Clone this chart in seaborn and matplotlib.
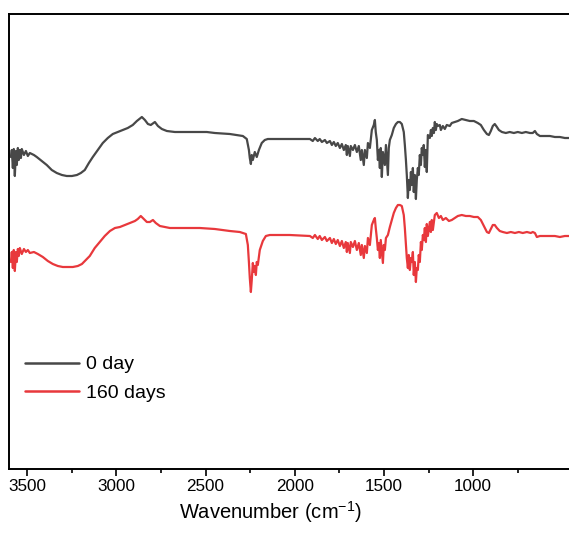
import numpy as np
import pandas as pd
import matplotlib
matplotlib.use("Agg")
import matplotlib.pyplot as plt
import seaborn as sns

wn_0day = [3591, 3586, 3580, 3575, 3569, 3563, 3558, 3552, 3547, 3541, 3535, 3530, 3518, 3507, 3496, 3485,
           3462, 3446, 3418, 3390, 3362, 3334, 3305, 3278, 3249, 3221, 3199, 3177, 3154, 3132, 3104, 3076,
           3048, 3020, 2992, 2964, 2936, 2908, 2885, 2857, 2840, 2823, 2807, 2784, 2767, 2745, 2717, 2672,
           2588, 2493, 2448, 2364, 2291, 2269, 2257, 2252, 2246, 2241, 2235, 2224, 2213, 2201, 2185, 2168,
           2151, 2084, 1971, 1915, 1899, 1887, 1871, 1860, 1848, 1831, 1820, 1803, 1792, 1781, 1770, 1759,
           1747, 1736, 1725, 1714, 1708, 1703, 1691, 1686, 1674, 1663, 1652, 1641, 1630, 1624, 1613, 1607,
           1596, 1590, 1579, 1568, 1557, 1551, 1546, 1540, 1534, 1529, 1523, 1518, 1512, 1506, 1495, 1489,
           1478, 1473, 1467, 1456, 1445, 1433, 1422, 1411, 1400, 1389, 1383, 1377, 1372, 1366, 1361, 1355,
           1349, 1344, 1338, 1333, 1327, 1321, 1316, 1310, 1305, 1299, 1293, 1288, 1282, 1277, 1271, 1265,
           1260, 1254, 1243, 1237, 1232, 1226, 1220, 1215, 1209, 1204, 1198, 1187, 1181, 1170, 1159, 1148,
           1131, 1120, 1103, 1086, 1064, 1041, 1019, 996, 974, 957, 940, 923, 912, 901, 890, 879,
           867, 856, 839, 817, 795, 772, 750, 727, 705, 682, 666, 654, 643, 626, 598, 570,
           542, 514, 486, 458]
int_0day = [312, 319, 301, 320, 293, 318, 304, 321, 309, 319, 311, 320, 314, 318, 313, 316,
            314, 312, 308, 304, 299, 296, 294, 293, 293, 294, 296, 299, 306, 312, 319, 326,
            331, 335, 337, 339, 341, 344, 348, 352, 349, 345, 344, 347, 343, 340, 338, 337,
            337, 337, 336, 335, 333, 330, 319, 311, 305, 314, 309, 317, 312, 319, 326, 329,
            330, 330, 330, 330, 328, 331, 328, 330, 327, 329, 326, 328, 324, 327, 323, 326,
            321, 325, 319, 324, 314, 323, 313, 323, 319, 324, 317, 323, 309, 319, 304, 319,
            311, 326, 321, 339, 344, 349, 337, 329, 309, 319, 301, 321, 292, 317, 304, 324,
            294, 321, 329, 334, 341, 345, 347, 347, 345, 337, 324, 309, 294, 271, 289, 279,
            297, 284, 301, 277, 294, 270, 289, 301, 294, 314, 304, 321, 314, 324, 302, 319,
            297, 334, 331, 339, 333, 341, 336, 347, 339, 345, 343, 344, 339, 343, 340, 344,
            343, 346, 347, 348, 350, 349, 348, 348, 346, 344, 339, 335, 334, 338, 343, 345,
            342, 339, 337, 336, 337, 336, 337, 336, 337, 336, 336, 338, 335, 333, 333, 333,
            332, 332, 331, 331]

wn_160days = [3591, 3586, 3580, 3575, 3569, 3563, 3558, 3552, 3547, 3541, 3530, 3518, 3507, 3496, 3485, 3462,
              3440, 3412, 3384, 3356, 3328, 3300, 3272, 3244, 3216, 3193, 3171, 3149, 3121, 3093, 3065, 3036,
              3008, 2980, 2952, 2924, 2896, 2880, 2863, 2846, 2829, 2812, 2795, 2779, 2756, 2728, 2700, 2616,
              2532, 2448, 2364, 2308, 2274, 2263, 2257, 2252, 2246, 2241, 2235, 2229, 2224, 2218, 2213, 2207,
              2196, 2179, 2162, 2140, 2028, 1915, 1899, 1887, 1871, 1860, 1848, 1831, 1820, 1803, 1792, 1781,
              1770, 1759, 1747, 1736, 1725, 1714, 1708, 1703, 1691, 1686, 1674, 1663, 1652, 1641, 1630, 1624,
              1613, 1607, 1596, 1590, 1579, 1568, 1557, 1551, 1546, 1540, 1534, 1529, 1523, 1518, 1506, 1501,
              1495, 1489, 1478, 1467, 1456, 1445, 1433, 1422, 1411, 1400, 1389, 1383, 1377, 1372, 1366, 1361,
              1355, 1349, 1344, 1338, 1333, 1327, 1321, 1316, 1310, 1305, 1299, 1293, 1288, 1282, 1277, 1271,
              1265, 1260, 1254, 1243, 1237, 1232, 1226, 1215, 1204, 1192, 1181, 1170, 1153, 1136, 1120, 1103,
              1086, 1064, 1041, 1019, 996, 974, 957, 940, 923, 912, 901, 890, 879, 867, 851, 834,
              811, 789, 766, 744, 722, 699, 677, 666, 654, 643, 626, 598, 570, 542, 514, 486,
              458]
int_160days = [207, 217, 201, 219, 198, 217, 207, 220, 213, 221, 215, 220, 217, 219, 216, 217,
               215, 212, 208, 205, 203, 202, 202, 202, 203, 205, 209, 213, 221, 227, 233, 238,
               241, 242, 244, 246, 248, 250, 253, 250, 247, 247, 249, 246, 243, 242, 241, 241,
               241, 240, 238, 237, 235, 224, 207, 191, 177, 189, 206, 197, 203, 194, 207, 204,
               219, 228, 233, 234, 234, 233, 231, 234, 230, 233, 229, 232, 228, 231, 226, 230,
               225, 229, 223, 228, 221, 227, 217, 226, 216, 227, 222, 228, 219, 226, 214, 224,
               211, 223, 216, 231, 224, 244, 249, 251, 241, 231, 219, 226, 211, 229, 206, 224,
               219, 231, 234, 242, 249, 256, 261, 264, 264, 263, 254, 241, 224, 211, 201, 214,
               199, 211, 207, 217, 194, 207, 187, 201, 199, 214, 207, 227, 219, 234, 229, 241,
               227, 245, 233, 247, 237, 249, 239, 254, 256, 251, 253, 249, 251, 248, 249, 251,
               253, 254, 253, 253, 252, 252, 249, 243, 237, 236, 240, 244, 244, 241, 238, 237,
               236, 237, 236, 237, 236, 237, 236, 237, 236, 232, 233, 233, 233, 233, 232, 233,
               233]

labels = ["0 day", "160 days"]
colores = ["#484848", "#e8383c"]

df = pd.concat([
    pd.DataFrame({"wn": wn_0day, "val": int_0day, "muestra": labels[0]}),
    pd.DataFrame({"wn": wn_160days, "val": int_160days, "muestra": labels[1]}),
], ignore_index=True)

sns.set_style("ticks")
plt.rcParams['font.family'] = ['Liberation Sans', 'DejaVu Sans']
plt.rcParams['mathtext.default'] = 'regular'
plt.rcParams['text.color'] = 'black'
plt.rcParams['axes.labelcolor'] = 'black'

fig = plt.figure(figsize=(5.69, 5.36), dpi=100)
ax = fig.add_axes([9.3 / 569, 67 / 536, 562 / 569, 455 / 536])

sns.lineplot(data=df, x="wn", y="val", hue="muestra", palette=colores,
             sort=False, estimator=None, linewidth=1.6, ax=ax, legend=False)

ax.set_xlim(3600, 450)
ax.set_ylim(0, 455)
ax.set_xticks([3500, 3000, 2500, 2000, 1500, 1000])
ax.set_xticks([3250, 2750, 2250, 1750, 1250, 750], minor=True)
ax.set_yticks([])
ax.set_ylabel("")
ax.tick_params(axis='x', which='major', direction='out', length=5, width=1.2,
               labelsize=12.3, pad=2.5, colors='black')
ax.tick_params(axis='x', which='minor', direction='out', length=3, width=1.2, colors='black')

for lado in ['left', 'top', 'bottom']:
    ax.spines[lado].set_linewidth(1.4)
    ax.spines[lado].set_color('black')
ax.spines['right'].set_visible(False)

ax.set_xlabel("Wavenumber (cm$^{-1}$)", fontsize=14.5, color='black')
ax.xaxis.set_label_coords(0.464, -0.066)

handles = [plt.Line2D([], [], color=c, linewidth=1.8) for c in colores]
ax.legend(handles, labels, loc='upper left', bbox_to_anchor=(0.028, 0.249),
          frameon=False, fontsize=14, handlelength=2.8, handletextpad=0.35,
          labelspacing=0.55, borderpad=0, borderaxespad=0, labelcolor='black')

plt.savefig("out.png", dpi=100)
plt.close()
